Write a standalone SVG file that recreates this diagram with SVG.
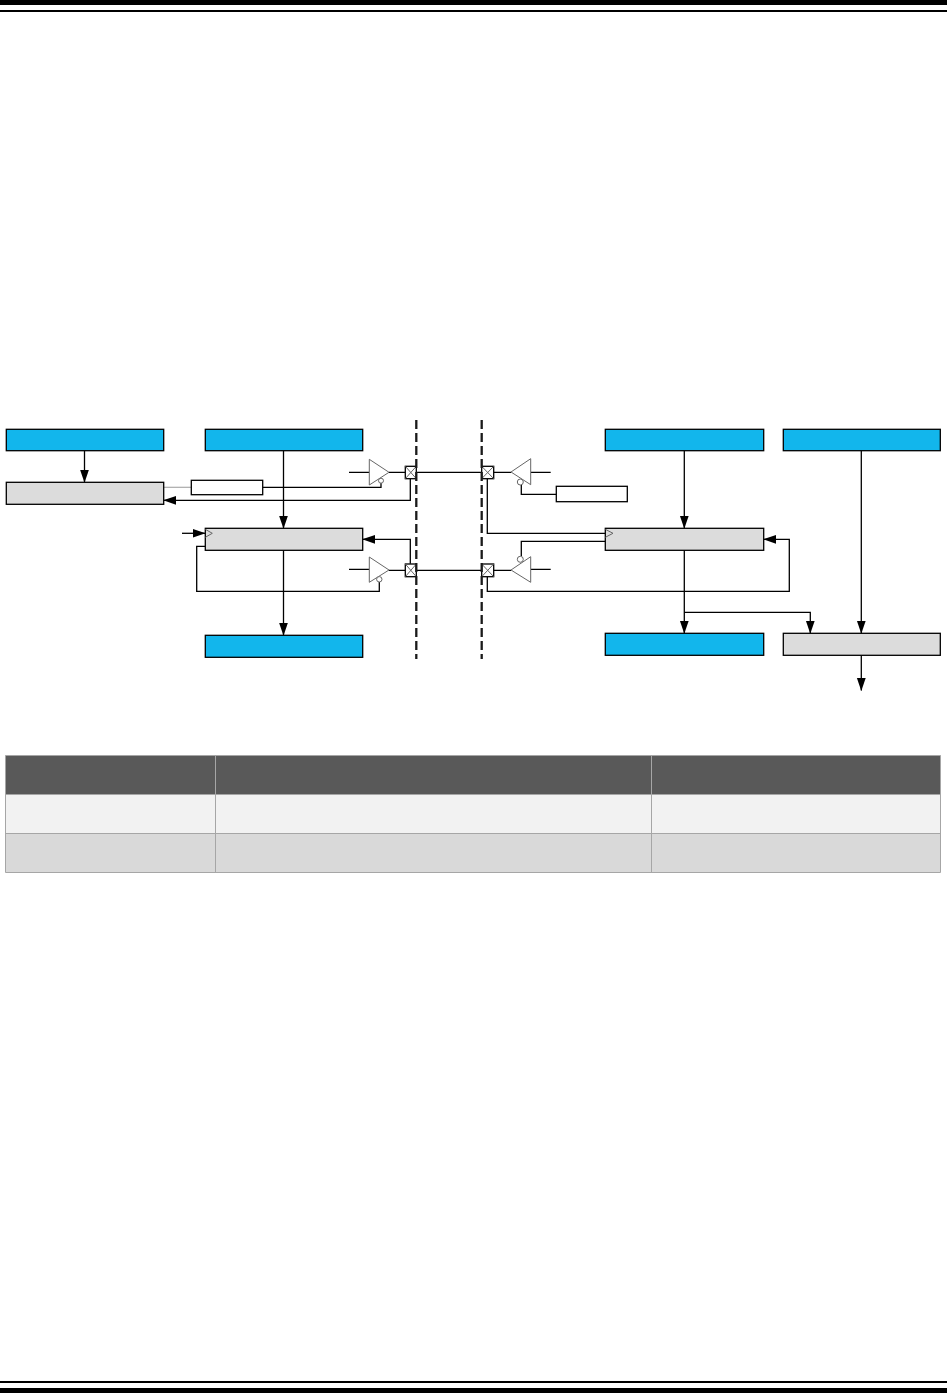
<svg xmlns="http://www.w3.org/2000/svg" width="947" height="1393" viewBox="0 0 947 1393">
<style>
.blue{fill:#12b6ec;stroke:#000;stroke-width:1.3}
.grey{fill:#dcdcdc;stroke:#000;stroke-width:1.3}
.white{fill:#fff;stroke:#000;stroke-width:1.3}
.w{fill:none;stroke:#000;stroke-width:1.3}
.a{fill:none;stroke:#000;stroke-width:1.3;marker-end:url(#ah)}
.g{fill:#fff;stroke:#666;stroke-width:1}
.gl{fill:none;stroke:#666;stroke-width:1}
.dash{fill:none;stroke:#1a1a1a;stroke-width:2.3;stroke-dasharray:9 4}
.t1{fill:#595959}.t2{fill:#f2f2f2}.t3{fill:#d9d9d9}
.tl{fill:none;stroke:#a6a6a6;stroke-width:1}
</style>
<defs><marker id="ah" markerUnits="userSpaceOnUse" markerWidth="13" markerHeight="10" refX="12.5" refY="5" orient="auto"><path d="M0 .6L13 5L0 9.4Z" fill="#000"/></marker></defs>
<rect width="947" height="1393" fill="#fff"/>
<g id="rules"><rect x="0" y="0" width="947" height="5" fill="#000"/><rect x="0" y="10" width="947" height="2" fill="#000"/><rect x="0" y="1381" width="947" height="2" fill="#000"/><rect x="0" y="1388" width="947" height="5" fill="#000"/></g>
<g id="connectors">
<path class="a" d="M84.5 450.7V482.3"/>
<path class="a" d="M283.5 450.7V528.3"/>
<path class="a" d="M283.5 550.3V635.3"/>
<path class="a" d="M684.3 450.7V528.3"/>
<path class="a" d="M684.3 550.3V633.3"/>
<path class="a" d="M684.3 612.3H810.3V633.3"/>
<path class="a" d="M861.3 450.7V633.3"/>
<path class="a" d="M861.3 655.3V690.5"/>
<path class="a" d="M182 533.3H205"/>
<path d="M163.7 487.3H191.3" fill="none" stroke="#aaa" stroke-width="1.2"/>
<path class="w" d="M262.7 487.3H381V483"/>
<path class="a" d="M410.3 478.7V500.3H163.7"/>
<path class="w" d="M205.3 546.3H196.7V591.3H379.3V582"/>
<path class="a" d="M410.3 563.7V539.3H362.7"/>
<path class="w" d="M349 472.3H369.3M389 472.3H405.3M349 569.3H369.3M389 570.3H405.3"/>
<path class="w" d="M416.3 472.3H481.7M416.3 570.3H481.7"/>
<path class="w" d="M493.7 472.3H511M531 472.3H550.7M493.7 570.3H511M531 569.3H550.7"/>
<path class="w" d="M556.3 494.3H521.3V485"/>
<path class="w" d="M487.3 478.7V533.3H605.3"/>
<path class="w" d="M605.3 541.3H521.3V556"/>
<path class="a" d="M487.3 576.7V591.3H789.3V539.3H763.7"/>
</g>
<g id="node-blue-1"><rect class="blue" x="6.3" y="429.3" width="157.4" height="21.4"/></g>
<g id="node-blue-2"><rect class="blue" x="205.3" y="429.3" width="157.4" height="21.4"/></g>
<g id="node-blue-3"><rect class="blue" x="605.3" y="429.3" width="158.4" height="21.4"/></g>
<g id="node-blue-4"><rect class="blue" x="783.3" y="429.3" width="157" height="21.4"/></g>
<g id="node-blue-5"><rect class="blue" x="205.3" y="635.3" width="157.4" height="22"/></g>
<g id="node-blue-6"><rect class="blue" x="605.3" y="633.3" width="158.4" height="22"/></g>
<g id="node-grey-1"><rect class="grey" x="6.3" y="482.3" width="157.4" height="22"/></g>
<g id="node-grey-2"><rect class="grey" x="205.3" y="528.3" width="157.4" height="22"/><path class="gl" d="M205.3 529.3L212.3 533.3L205.3 537.3"/></g>
<g id="node-grey-3"><rect class="grey" x="605.3" y="528.3" width="158.4" height="22"/><path class="gl" d="M605.3 529.3L613 533.3L605.3 537.3"/></g>
<g id="node-grey-4"><rect class="grey" x="783.3" y="633.3" width="157" height="22"/></g>
<g id="node-white-1"><rect class="white" x="191.3" y="480.3" width="71.4" height="14.4"/></g>
<g id="node-white-2"><rect class="white" x="556.3" y="486.3" width="71" height="15.4"/></g>
<g id="buffer-1"><path class="g" d="M369.3 459.3L389 472.3L369.3 485Z"/><circle class="g" cx="381" cy="480.7" r="2.5"/></g>
<g id="buffer-2"><path class="g" d="M369.3 557L389 570L369.3 582.3Z"/><circle class="g" cx="379.3" cy="579.3" r="2.7"/></g>
<g id="buffer-3"><path class="g" d="M530.7 458.7L511 472L530.7 484.7Z"/><circle class="g" cx="520.3" cy="482" r="3"/></g>
<g id="buffer-4"><path class="g" d="M530.7 556.7L511 570L530.7 582.3Z"/><circle class="g" cx="520.3" cy="559.3" r="3"/></g>
<g id="pad-1"><rect class="white" x="405.3" y="466.3" width="11" height="12.4"/><path class="gl" d="M405.3 466.3L416.3 478.7M416.3 466.3L405.3 478.7"/></g>
<g id="pad-2"><rect class="white" x="405.3" y="564" width="11" height="12.7"/><path class="gl" d="M405.3 564L416.3 576.7M416.3 564L405.3 576.7"/></g>
<g id="pad-3"><rect class="white" x="481.7" y="466.3" width="12" height="12.4"/><path class="gl" d="M481.7 466.3L493.7 478.7M493.7 466.3L481.7 478.7"/></g>
<g id="pad-4"><rect class="white" x="481.7" y="564" width="12" height="12.7"/><path class="gl" d="M481.7 564L493.7 576.7M493.7 564L481.7 576.7"/></g>
<g id="boundaries"><path class="dash" d="M416.3 420V659"/><path class="dash" d="M481.7 420V659"/></g>
<g id="table">
<rect class="t1" x="5.5" y="755.5" width="935" height="39"/>
<rect class="t2" x="5.5" y="794.5" width="935" height="39"/>
<rect class="t3" x="5.5" y="833.5" width="935" height="39"/>
<path class="tl" d="M5.5 755.5H940.5M5.5 794.5H940.5M5.5 833.5H940.5M5.5 872.5H940.5M5.5 755.5V872.5M215.5 755.5V872.5M651.5 755.5V872.5M940.5 755.5V872.5"/>
</g>
</svg>
